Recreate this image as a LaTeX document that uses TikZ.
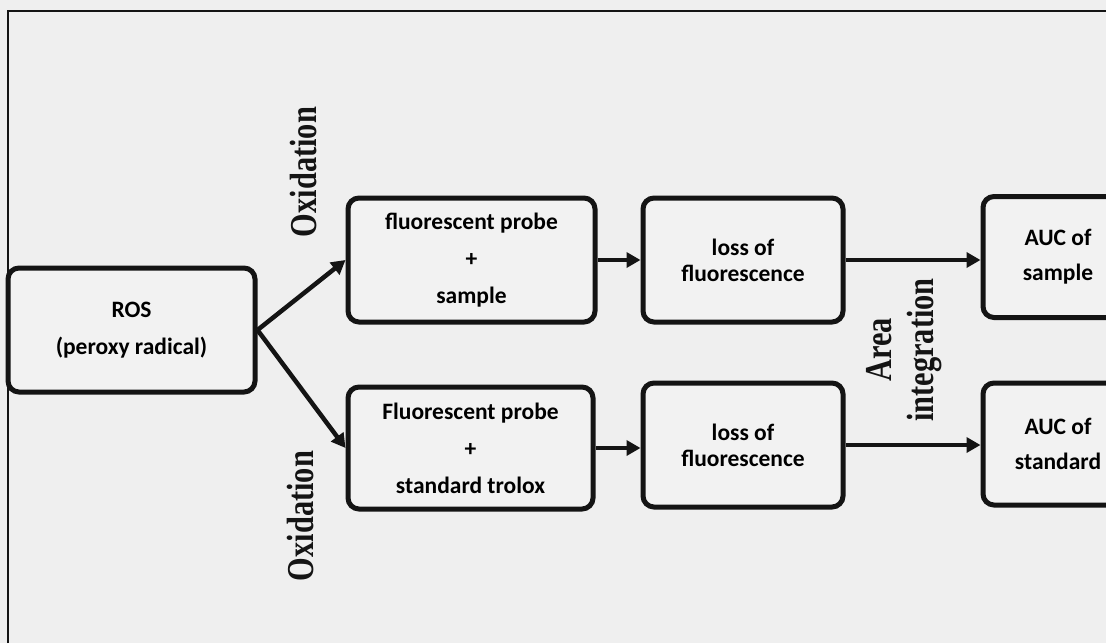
\documentclass[tikz,border=0pt]{standalone}
\usepackage{fontspec}
\usepackage{graphicx}
\setmainfont{Carlito}
\newfontfamily\labelserif{Liberation Serif}
\usetikzlibrary{arrows.meta}
\definecolor{bgpaper}{RGB}{239,239,239}
\definecolor{boxfill}{RGB}{242,242,242}
\definecolor{inkc}{RGB}{20,20,20}
\tikzset{
  procbox/.style={draw=inkc, fill=boxfill, line width=5pt, rounded corners=11pt,
    align=center, font=\bfseries\fontsize{23.5}{26}\selectfont, inner sep=0pt},
  flowarrow/.style={draw=inkc, line width=4.5pt, -{Triangle[length=14pt,width=15pt]}},
  sidelabel/.style={rotate=90, inner sep=0pt, align=center, text=inkc,
    font=\fontsize{38}{42}\selectfont},
  frameline/.style={draw=inkc, line width=2pt}
}
\newcommand{\labtxt}[1]{\scalebox{0.8}[1]{\labelserif\bfseries\fontsize{38}{42}\selectfont #1}}
\begin{document}
\begin{tikzpicture}[x=1pt,y=-1pt]
\useasboundingbox[fill=bgpaper] (0,0) rectangle (1106,643);
\draw[frameline] (8,643) -- (8,11) -- (1106,11);

\node[procbox, minimum width=247pt, minimum height=124pt] (ros) at (131.5,330) {ROS\\[11pt](peroxy radical)};
\node[procbox, minimum width=247pt, minimum height=124pt] (p1) at (471.5,260) {fluorescent probe\\[11pt]+\\[11pt]sample};
\node[procbox, minimum width=200pt, minimum height=124pt] (l1) at (743,260) {loss of\\fluorescence};
\node[procbox, minimum width=150pt, minimum height=121pt] (a1) at (1058,257) {AUC of\\[9pt]sample};

\node[procbox, minimum width=245pt, minimum height=122pt] (p2) at (470.5,448) {Fluorescent probe\\[11pt]+\\[11pt]standard trolox};
\node[procbox, minimum width=200pt, minimum height=124pt] (l2) at (743,445) {loss of\\fluorescence};
\node[procbox, minimum width=150pt, minimum height=122pt] (a2) at (1058,444) {AUC of\\[9pt]standard};

\draw[flowarrow] (ros.east) -- (p1.west);
\draw[flowarrow] (ros.east) -- (p2.west);
\draw[flowarrow] (p1.east) -- (p1.east -| l1.west);
\draw[flowarrow] (p2.east) -- (p2.east -| l2.west);
\draw[flowarrow] (l1.east) -- (l1.east -| a1.west);
\draw[flowarrow] (l2.east) -- (l2.east -| a2.west);

\node[sidelabel] (ox1) at (303,172) {\labtxt{Oxidation}};
\node[sidelabel] (ox2) at (300,516) {\labtxt{Oxidation}};
\node[sidelabel] (area) at (904,350) {\labtxt{Area}\\\labtxt{integration}};
\end{tikzpicture}
\end{document}
